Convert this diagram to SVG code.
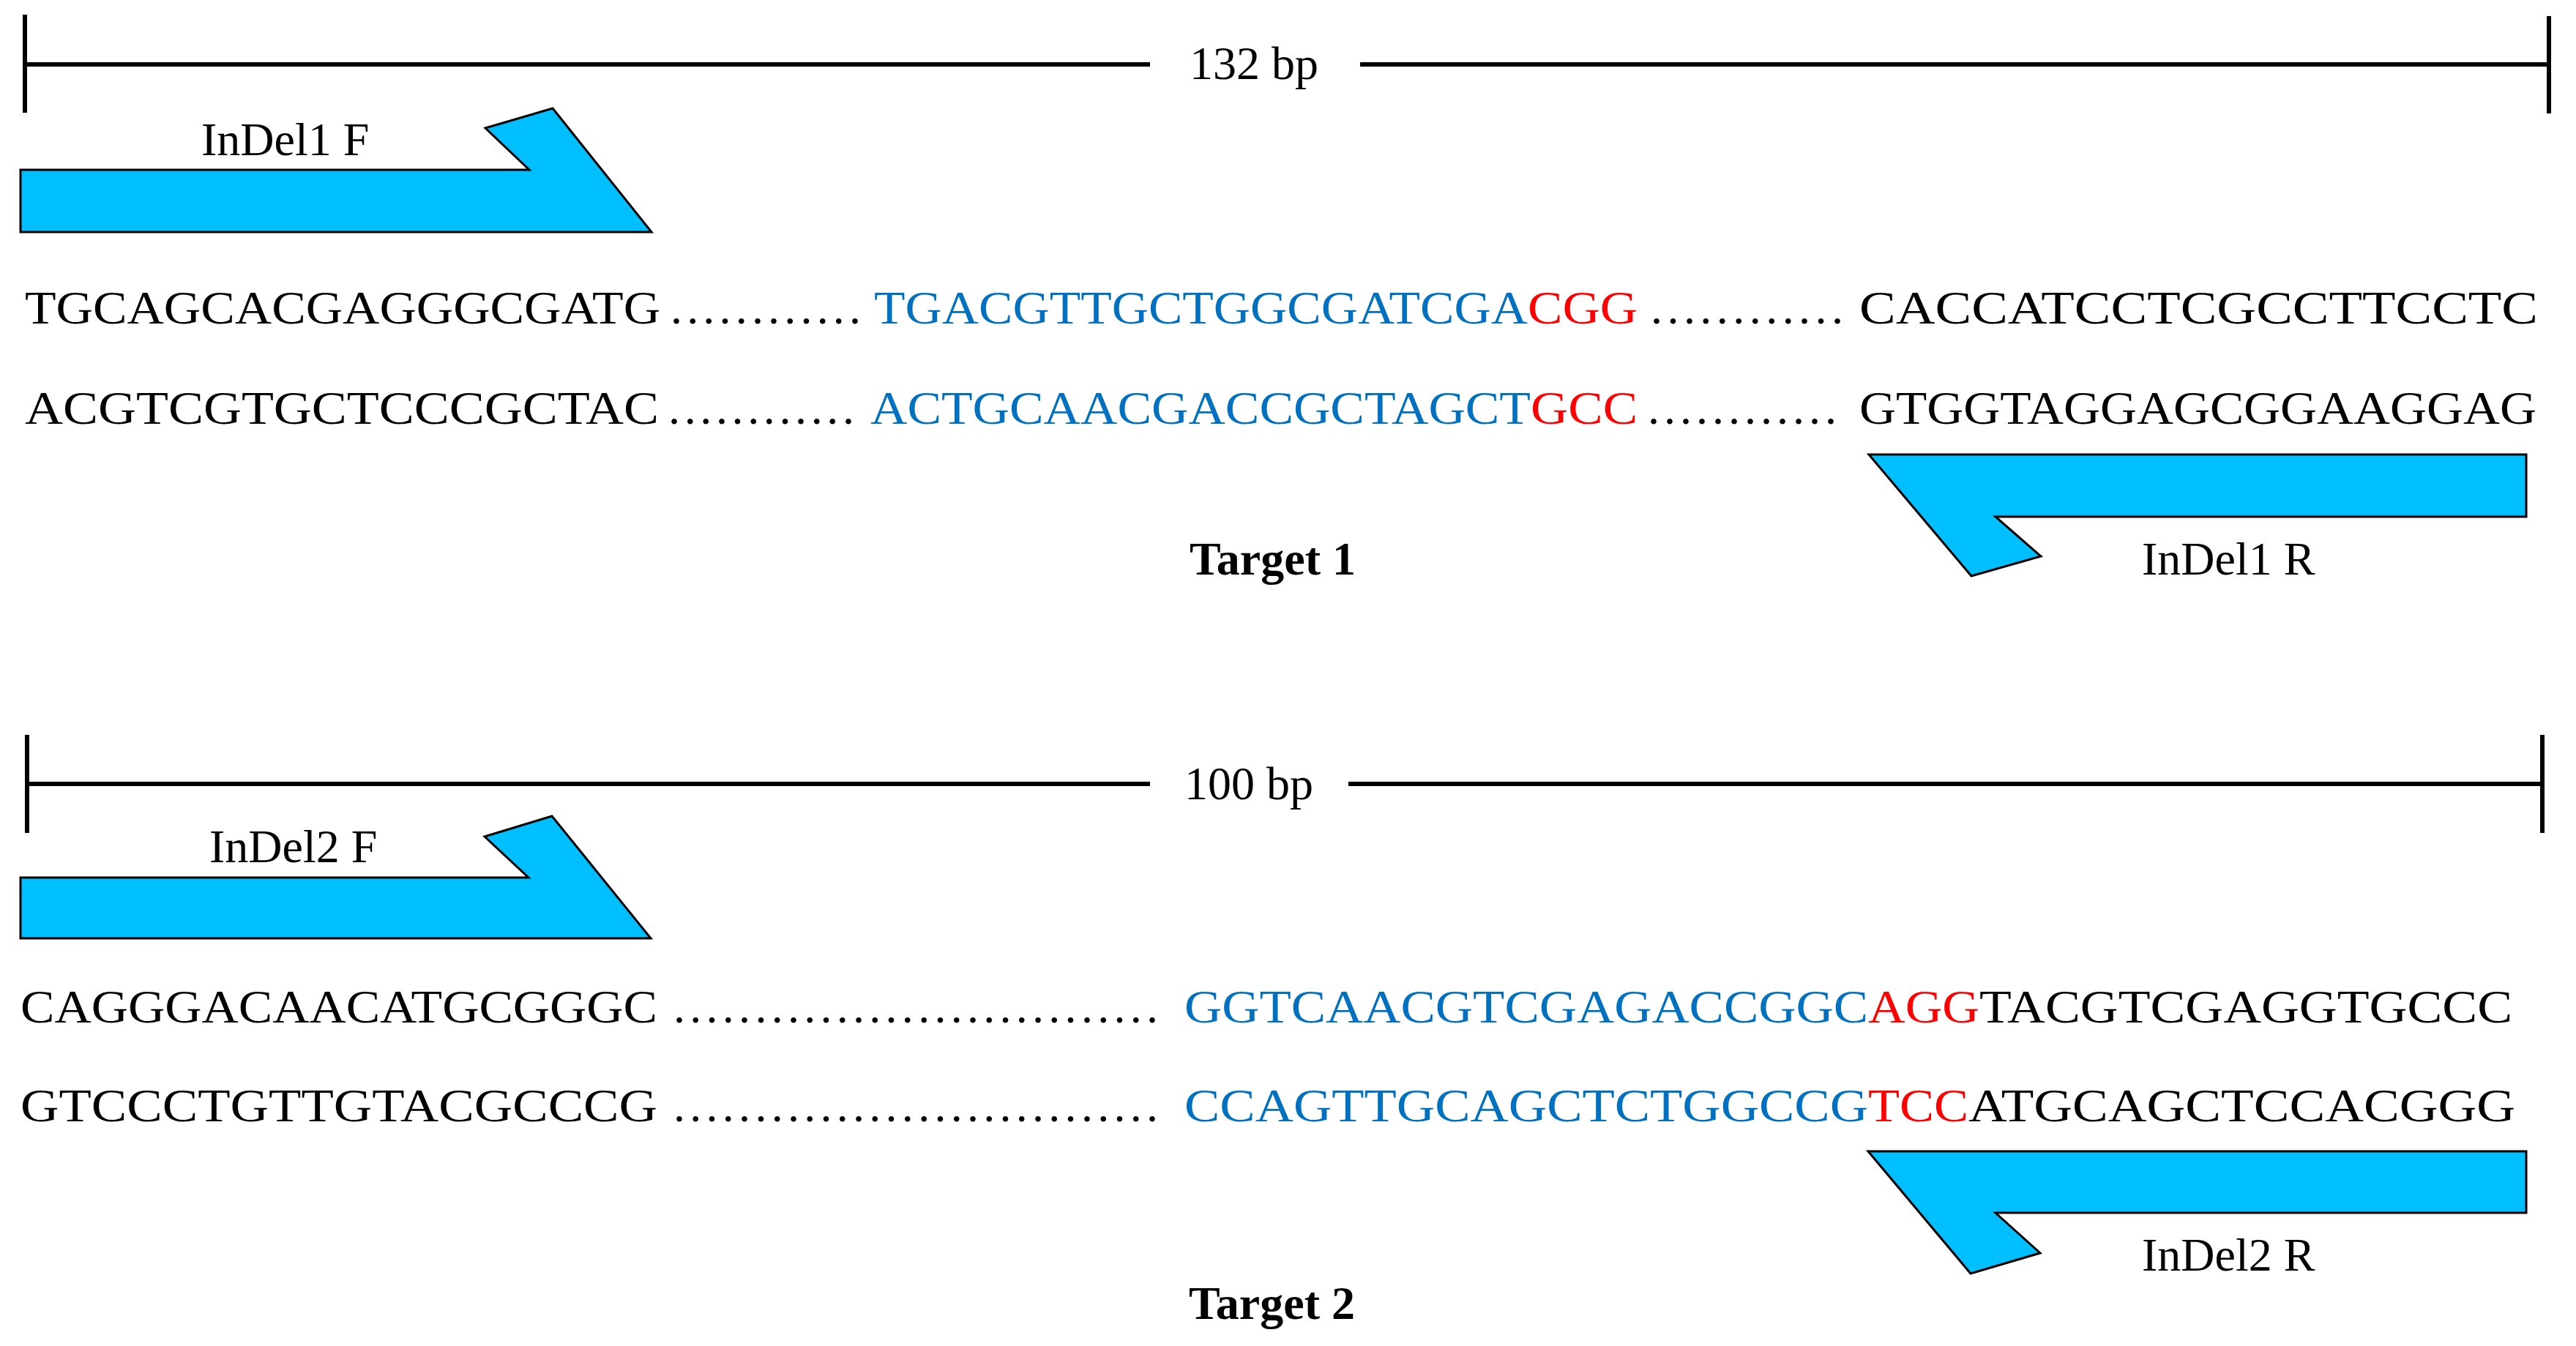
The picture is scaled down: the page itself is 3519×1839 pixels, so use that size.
<svg xmlns="http://www.w3.org/2000/svg" width="3519" height="1839" viewBox="0 0 3519 1839">
<style>
text{font-family:"Liberation Serif","Times New Roman",serif;font-size:64px;fill:#000}
.b{fill:#0070c0}.r{fill:#ff0000}.t{font-weight:bold}
.ln{stroke:#000;stroke-width:6;fill:none}
.ar{fill:#00bfff;stroke:#000;stroke-width:3}
</style>
<rect width="3519" height="1839" fill="#fff"/>
<g id="connectors">
<path class="ln" d="M34 20V154M34 88H1571M1858 88H3482M3482 22V155"/>
<path class="ln" d="M37 1004V1138M37 1071H1571M1842 1071H3473M3473 1004V1138"/>
</g>
<g id="scale1"><text x="1625" y="108">132 bp</text></g>
<g id="scale2"><text x="1618" y="1092">100 bp</text></g>
<g id="indel1F"><polygon class="ar" points="28,232 723,232 663,175 755,148 890,317 28,317"/><text x="275" y="212">InDel1 F</text></g>
<g id="indel1R"><polygon class="ar" points="3451,621 2553,621 2693,787 2788,760 2726,706 3451,706"/><text x="2926" y="785">InDel1 R</text></g>
<g id="target1"><text class="t" x="1625" y="785">Target 1</text></g>
<g id="seq1">
<text x="34" y="442" textLength="868" lengthAdjust="spacingAndGlyphs">TGCAGCACGAGGGCGATG</text>
<text x="916" y="442" textLength="260" lengthAdjust="spacing">............</text>
<text class="b" x="1194" y="442" textLength="893" lengthAdjust="spacingAndGlyphs">TGACGTTGCTGGCGATCGA</text>
<text class="r" x="2087" y="442" textLength="150" lengthAdjust="spacingAndGlyphs">CGG</text>
<text x="2255" y="442" textLength="263" lengthAdjust="spacing">............</text>
<text x="2540" y="442" textLength="927" lengthAdjust="spacingAndGlyphs">CACCATCCTCGCCTTCCTC</text>
<text x="34" y="579" textLength="866" lengthAdjust="spacingAndGlyphs">ACGTCGTGCTCCCGCTAC</text>
<text x="913" y="579" textLength="254" lengthAdjust="spacing">............</text>
<text class="b" x="1189" y="579" textLength="902" lengthAdjust="spacingAndGlyphs">ACTGCAACGACCGCTAGCT</text>
<text class="r" x="2091" y="579" textLength="146" lengthAdjust="spacingAndGlyphs">GCC</text>
<text x="2251" y="579" textLength="258" lengthAdjust="spacing">............</text>
<text x="2540" y="579" textLength="925" lengthAdjust="spacingAndGlyphs">GTGGTAGGAGCGGAAGGAG</text>
</g>
<g id="indel2F"><polygon class="ar" points="28,1199 722,1199 662,1143 754,1115 889,1282 28,1282"/><text x="286" y="1178">InDel2 F</text></g>
<g id="indel2R"><polygon class="ar" points="3451,1573 2552,1573 2692,1740 2787,1712 2726,1657 3451,1657"/><text x="2926" y="1736">InDel2 R</text></g>
<g id="target2"><text class="t" x="1624" y="1802">Target 2</text></g>
<g id="seq2">
<text x="28" y="1397" textLength="870" lengthAdjust="spacingAndGlyphs">CAGGGACAACATGCGGGC</text>
<text x="920" y="1397" textLength="662" lengthAdjust="spacing">..............................</text>
<text class="b" x="1618" y="1397" textLength="934" lengthAdjust="spacingAndGlyphs">GGTCAACGTCGAGACCGGC</text>
<text class="r" x="2552" y="1397" textLength="152" lengthAdjust="spacingAndGlyphs">AGG</text>
<text x="2704" y="1397" textLength="728" lengthAdjust="spacingAndGlyphs">TACGTCGAGGTGCCC</text>
<text x="28" y="1532" textLength="870" lengthAdjust="spacingAndGlyphs">GTCCCTGTTGTACGCCCG</text>
<text x="920" y="1532" textLength="662" lengthAdjust="spacing">..............................</text>
<text class="b" x="1618" y="1532" textLength="934" lengthAdjust="spacingAndGlyphs">CCAGTTGCAGCTCTGGCCG</text>
<text class="r" x="2552" y="1532" textLength="137" lengthAdjust="spacingAndGlyphs">TCC</text>
<text x="2689" y="1532" textLength="747" lengthAdjust="spacingAndGlyphs">ATGCAGCTCCACGGG</text>
</g>
</svg>
